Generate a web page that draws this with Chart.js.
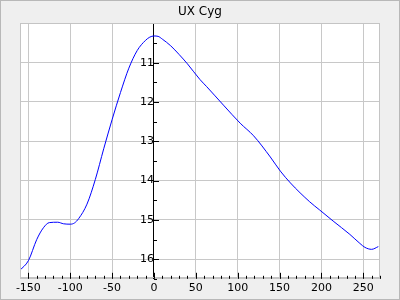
<!DOCTYPE html>
<html>
<head>
<meta charset="utf-8">
<script src="https://cdn.jsdelivr.net/npm/chart.js@4/dist/chart.umd.min.js"></script>
<style>
  html, body { margin: 0; padding: 0; background: #efefef; }
  #wrap { width: 400px; height: 300px; }
</style>
</head>
<body>
<div id="wrap"><canvas id="lc"></canvas></div>
<script>
// Lichtkurve UX Cyg: Phase (Tage) gegen Helligkeit (mag)
const phase = [-160, -150, -140, -132, -125, -115, -108, -100, -95, -90, -80, -70, -60, -50, -40, -30, -20, -10, -5, 0, 5, 10, 20, 30, 40, 55, 63, 83, 103, 119, 139, 151, 163, 186, 198, 214, 234, 246, 252, 260, 268];
const mag = [16.28, 16.04, 15.5, 15.2, 15.07, 15.06, 15.1, 15.11, 15.08, 14.97, 14.6, 13.97, 13.19, 12.45, 11.76, 11.14, 10.69, 10.43, 10.35, 10.32, 10.33, 10.4, 10.57, 10.79, 11.03, 11.43, 11.61, 12.08, 12.54, 12.86, 13.4, 13.76, 14.06, 14.54, 14.75, 15.03, 15.37, 15.6, 15.7, 15.75, 15.68];
const xTicks = [-150, -100, -50, 0, 50, 100, 150, 200, 250];
const yTicks = [11, 12, 13, 14, 15, 16];
const title = 'UX Cyg';

const font = 'DejaVu Sans';

// Hintergrund, Rahmen und kleine Striche
const deko = {
  id: 'deko',
  beforeDraw(chart) {
    const { ctx, chartArea: a } = chart;
    ctx.save();
    ctx.fillStyle = '#efefef';
    ctx.fillRect(0, 0, chart.width, chart.height);
    ctx.fillStyle = '#ffffff';
    ctx.fillRect(a.left, a.top, a.right - a.left, a.bottom - a.top);
    ctx.restore();
  },
  afterDraw(chart) {
    const { ctx, chartArea: a, scales: { x, y } } = chart;
    ctx.save();
    ctx.strokeStyle = '#c4c4c4';
    ctx.lineWidth = 1;
    ctx.strokeRect(Math.round(a.left) + 0.5, Math.round(a.top) + 0.5, Math.round(a.right - a.left) - 1, Math.round(a.bottom - a.top) - 1);
    ctx.strokeStyle = '#b8b8b8';
    ctx.strokeRect(0.5, 0.5, chart.width - 1, chart.height - 1);

    ctx.strokeStyle = '#000';
    ctx.beginPath();
    for (let v = -150; v <= 270; v += 10) {
      const px = Math.round(x.getPixelForValue(v)) + 0.5;
      const len = v % 50 === 0 ? 6 : 3;
      ctx.moveTo(px, a.bottom);
      ctx.lineTo(px, a.bottom - len);
    }
    const x0 = Math.round(x.getPixelForValue(0));
    for (let m = 10.5; m <= 16.5; m += 0.5) {
      const py = Math.round(y.getPixelForValue(m)) + 0.5;
      const len = Number.isInteger(m) ? 5 : 3;
      ctx.moveTo(x0, py);
      ctx.lineTo(x0 + len, py);
    }
    ctx.stroke();
    ctx.restore();
  }
};

new Chart(document.getElementById('lc'), {
  type: 'scatter',
  data: {
    datasets: [{
      data: phase.map((p, i) => ({ x: p, y: mag[i] })),
      showLine: true,
      borderColor: '#0000ff',
      borderWidth: 1,
      pointRadius: 0,
      cubicInterpolationMode: 'monotone'
    }]
  },
  options: {
    responsive: true,
    maintainAspectRatio: false,
    animation: false,
    layout: { padding: { left: 20, right: 20, top: 0, bottom: 2 } },
    plugins: {
      legend: { display: false },
      tooltip: { enabled: false },
      title: {
        display: true,
        text: title,
        color: '#000',
        font: { family: font, size: 12, weight: 'normal' },
        padding: { top: 5, bottom: 4 }
      }
    },
    scales: {
      x: {
        type: 'linear',
        min: -160,
        max: 270,
        afterBuildTicks: s => { s.ticks = xTicks.map(v => ({ value: v })); },
        ticks: { autoSkip: false, color: '#000', font: { family: font, size: 11 }, padding: 3, maxRotation: 0 },
        grid: { color: '#c8c8c8', drawTicks: false },
        border: { color: '#c4c4c4' }
      },
      y: {
        type: 'linear',
        reverse: true,
        min: 10,
        max: 16.5,
        position: { x: 0 },
        afterBuildTicks: s => { s.ticks = yTicks.map(v => ({ value: v })); },
        ticks: { autoSkip: false, color: '#000', font: { family: font, size: 11 }, padding: 10 },
        grid: { color: '#c8c8c8', drawTicks: false },
        border: { color: '#000', width: 1 }
      }
    }
  },
  plugins: [deko]
});
</script>
</body>
</html>
